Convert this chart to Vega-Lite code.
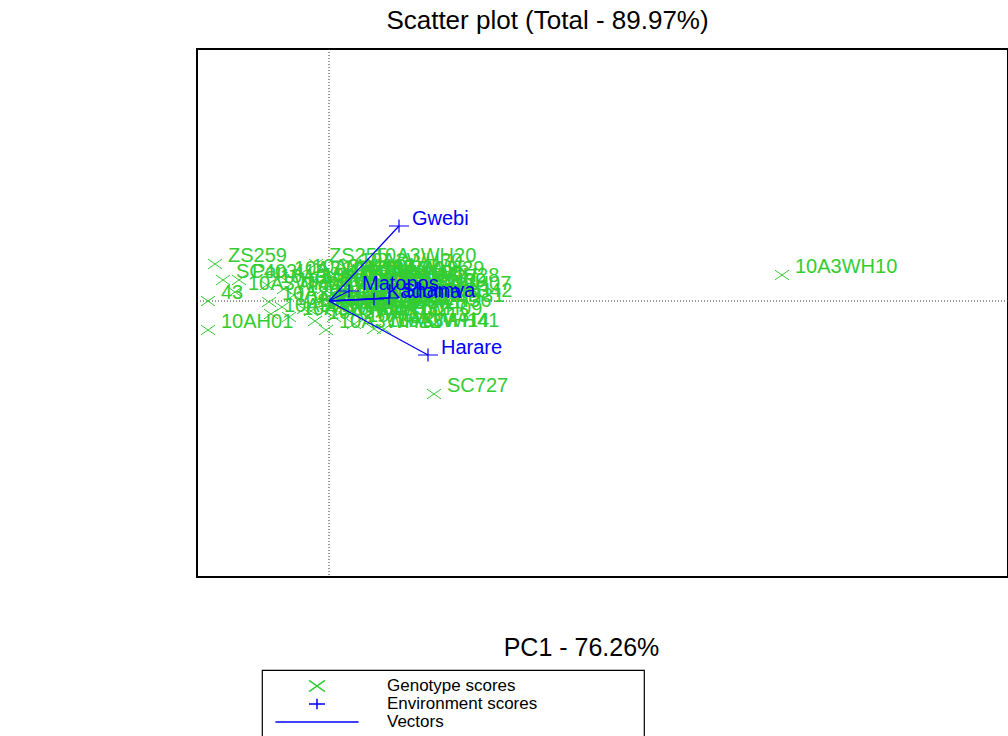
{
  "$schema": "https://vega.github.io/schema/vega-lite/v6.json",
  "width": 811,
  "height": 528,
  "autosize": {"type": "none"},
  "padding": {"left": 197, "top": 49, "right": 0, "bottom": 159},
  "background": "white",
  "title": {
    "text": "Scatter plot (Total - 89.97%)",
    "frame": "group",
    "anchor": "middle",
    "dx": -55,
    "dy": 27,
    "offset": 21,
    "baseline": "alphabetic",
    "fontSize": 26,
    "fontWeight": "normal",
    "font": "Liberation Sans",
    "color": "black"
  },
  "datasets": {
    "genotypes": [
      {"name": "ZS259", "PC1": -2.85, "PC2": 0.925, "type": "Genotype scores"},
      {"name": "SC403", "PC1": -2.65, "PC2": 0.525, "type": "Genotype scores"},
      {"name": "Pan 413", "PC1": -2.25, "PC2": 0.525, "type": "Genotype scores"},
      {"name": "10A3WH01", "PC1": -2.35, "PC2": 0.225, "type": "Genotype scores"},
      {"name": "43", "PC1": -3.025, "PC2": 0.0, "type": "Genotype scores"},
      {"name": "10AH01", "PC1": -3.025, "PC2": -0.725, "type": "Genotype scores"},
      {"name": "10A3WH02", "PC1": -1.5, "PC2": -0.025, "type": "Genotype scores"},
      {"name": "10A3WH03", "PC1": -1.45, "PC2": -0.325, "type": "Genotype scores"},
      {"name": "10A3WH04", "PC1": -1.175, "PC2": -0.15, "type": "Genotype scores"},
      {"name": "10A3WH05", "PC1": -1.55, "PC2": 0.4, "type": "Genotype scores"},
      {"name": "10A3WH06", "PC1": -1.0, "PC2": -0.4, "type": "Genotype scores"},
      {"name": "10A3WH08", "PC1": -0.75, "PC2": 0.65, "type": "Genotype scores"},
      {"name": "ZS255", "PC1": -0.325, "PC2": 0.925, "type": "Genotype scores"},
      {"name": "10A3WH20", "PC1": 0.8, "PC2": 0.925, "type": "Genotype scores"},
      {"name": "10A3WH11", "PC1": -0.35, "PC2": -0.5, "type": "Genotype scores"},
      {"name": "10A3WH12", "PC1": -0.075, "PC2": -0.725, "type": "Genotype scores"},
      {"name": "10A3WH13", "PC1": 0.625, "PC2": -0.575, "type": "Genotype scores"},
      {"name": "10A3WH14", "PC1": 1.125, "PC2": -0.7, "type": "Genotype scores"},
      {"name": "10A3WH29", "PC1": 1.0, "PC2": 0.6, "type": "Genotype scores"},
      {"name": "10A3WH27", "PC1": 0.825, "PC2": 0.4, "type": "Genotype scores"},
      {"name": "10A3WH07", "PC1": 1.675, "PC2": 0.225, "type": "Genotype scores"},
      {"name": "10A3WH33", "PC1": 1.125, "PC2": 0.025, "type": "Genotype scores"},
      {"name": "10A3WH36", "PC1": 1.175, "PC2": -0.2, "type": "Genotype scores"},
      {"name": "10A3WH09", "PC1": 0.95, "PC2": -0.4, "type": "Genotype scores"},
      {"name": "10A3WH41", "PC1": 1.375, "PC2": -0.7, "type": "Genotype scores"},
      {"name": "SC727", "PC1": 2.625, "PC2": -2.325, "type": "Genotype scores"},
      {"name": "10A3WH10", "PC1": 11.325, "PC2": 0.65, "type": "Genotype scores"},
      {"name": "10A3WH19", "PC1": 0.35, "PC2": 0.6, "type": "Genotype scores"},
      {"name": "10A3WH15", "PC1": -1.2, "PC2": 0.6, "type": "Genotype scores"},
      {"name": "10A3WH16", "PC1": -0.5, "PC2": 0.425, "type": "Genotype scores"},
      {"name": "10A3WH17", "PC1": -0.125, "PC2": 0.3, "type": "Genotype scores"},
      {"name": "10A3WH18", "PC1": 0.2, "PC2": 0.5, "type": "Genotype scores"},
      {"name": "10A3WH21", "PC1": 0.5, "PC2": 0.05, "type": "Genotype scores"},
      {"name": "10A3WH22", "PC1": 0.25, "PC2": -0.15, "type": "Genotype scores"},
      {"name": "10A3WH23", "PC1": -0.25, "PC2": 0.05, "type": "Genotype scores"},
      {"name": "10A3WH24", "PC1": -0.625, "PC2": -0.2, "type": "Genotype scores"},
      {"name": "10A3WH25", "PC1": 0.75, "PC2": 0.175, "type": "Genotype scores"},
      {"name": "10A3WH26", "PC1": 0.55, "PC2": -0.25, "type": "Genotype scores"},
      {"name": "10A3WH28", "PC1": 1.375, "PC2": 0.425, "type": "Genotype scores"},
      {"name": "10A3WH30", "PC1": 0.45, "PC2": 0.8, "type": "Genotype scores"},
      {"name": "10A3WH31", "PC1": 1.5, "PC2": -0.075, "type": "Genotype scores"},
      {"name": "10A3WH32", "PC1": 0.125, "PC2": -0.4, "type": "Genotype scores"},
      {"name": "10A3WH34", "PC1": -0.875, "PC2": 0.15, "type": "Genotype scores"},
      {"name": "10A3WH35", "PC1": 0.875, "PC2": -0.075, "type": "Genotype scores"},
      {"name": "10A3WH37", "PC1": 0.375, "PC2": 0.25, "type": "Genotype scores"},
      {"name": "10A3WH38", "PC1": -0.45, "PC2": -0.25, "type": "Genotype scores"},
      {"name": "10A3WH39", "PC1": 1.05, "PC2": 0.3, "type": "Genotype scores"},
      {"name": "10A3WH40", "PC1": 0.0, "PC2": 0.6, "type": "Genotype scores"},
      {"name": "10A3WH42", "PC1": 1.7, "PC2": 0.05, "type": "Genotype scores"},
      {"name": "10A3WH43", "PC1": 0.625, "PC2": 0.5, "type": "Genotype scores"},
      {"name": "10A3WH44", "PC1": -1.125, "PC2": 0.3, "type": "Genotype scores"},
      {"name": "10A3WH45", "PC1": -0.125, "PC2": -0.25, "type": "Genotype scores"}
    ],
    "environments": [
      {"name": "Gwebi", "PC1": 1.75, "PC2": 1.875, "type": "Environment scores"},
      {"name": "Harare", "PC1": 2.475, "PC2": -1.35, "type": "Environment scores"},
      {"name": "Matopos", "PC1": 0.5, "PC2": 0.25, "type": "Environment scores"},
      {"name": "Kadoma", "PC1": 1.125, "PC2": 0.05, "type": "Environment scores"},
      {"name": "Shamva", "PC1": 1.5, "PC2": 0.075, "type": "Environment scores"}
    ]
  },
  "layer": [
    {
      "data": {"values": [{}]},
      "mark": {"type": "rule", "strokeDash": [1, 2], "color": "#333333", "strokeWidth": 1},
      "encoding": {
        "x": {"datum": 0, "type": "quantitative", "scale": {"domain": [-3.3, 16.975], "nice": false, "zero": false}}
      }
    },
    {
      "data": {"values": [{}]},
      "mark": {"type": "rule", "strokeDash": [1, 2], "color": "#333333", "strokeWidth": 1},
      "encoding": {
        "y": {"datum": 0, "type": "quantitative", "scale": {"domain": [-6.9, 6.3], "nice": false, "zero": false}}
      }
    },
    {
      "data": {"name": "genotypes"},
      "mark": {"type": "point", "size": 196, "filled": false, "opacity": 1, "strokeWidth": 1},
      "encoding": {
        "x": {"field": "PC1", "type": "quantitative", "scale": {"domain": [-3.3, 16.975], "nice": false, "zero": false},
              "axis": {"orient": "bottom", "title": "PC1 - 76.26%", "titleX": 384, "titleY": 70, "titleAlign": "center", "titleBaseline": "middle", "titleFontSize": 25, "titleFontWeight": "normal", "titleFont": "Liberation Sans", "titleColor": "black"}},
        "y": {"field": "PC2", "type": "quantitative", "scale": {"domain": [-6.9, 6.3], "nice": false, "zero": false}, "axis": {"title": null}},
        "shape": {
          "field": "type", "type": "nominal",
          "scale": {"domain": ["Genotype scores", "Environment scores", "Vectors"], "range": ["M-1,-0.7L1,0.7M1,-0.7L-1,0.7", "M-1,0L1,0M0,-0.65L0,0.65", "M-5.2,0L5.2,0"]},
          "legend": {
            "title": "\u00a0",
            "titleOrient": "right",
            "titlePadding": 100,
            "orient": "none",
            "legendX": 65,
            "legendY": 621,
            "padding": 7,
            "strokeColor": "black",
            "symbolOffset": 39,
            "symbolSize": 256,
            "labelOffset": 61,
            "rowPadding": 0,
            "labelFontSize": 17,
            "labelFont": "Liberation Sans",
            "labelColor": "black",
            "labelLimit": 400,
            "encode": {
              "symbols": {
                "update": {
                  "stroke": {"signal": "datum.value === 'Genotype scores' ? '#33cc33' : '#0000ff'"},
                  "fill": {"value": "transparent"},
                  "strokeWidth": {"value": 1.2},
                  "size": {"value": 256},
                  "opacity": {"value": 1}
                }
              }
            }
          }
        },
        "color": {
          "field": "type", "type": "nominal",
          "scale": {"domain": ["Genotype scores", "Environment scores", "Vectors"], "range": ["#33cc33", "#0000ff", "#0000ff"]},
          "legend": {
            "title": "\u00a0",
            "titleOrient": "right",
            "titlePadding": 100,
            "orient": "none",
            "legendX": 65,
            "legendY": 621,
            "padding": 7,
            "strokeColor": "black",
            "symbolOffset": 39,
            "symbolSize": 256,
            "labelOffset": 61,
            "rowPadding": 0,
            "labelFontSize": 17,
            "labelFont": "Liberation Sans",
            "labelColor": "black",
            "labelLimit": 400
          }
        }
      }
    },
    {
      "data": {"name": "genotypes"},
      "mark": {"type": "text", "align": "left", "baseline": "middle", "dx": 13, "dy": -8, "fontSize": 20, "font": "Liberation Sans", "color": "#33cc33"},
      "encoding": {
        "x": {"field": "PC1", "type": "quantitative"},
        "y": {"field": "PC2", "type": "quantitative"},
        "text": {"field": "name", "type": "nominal"}
      }
    },
    {
      "data": {"name": "environments"},
      "mark": {"type": "rule", "strokeWidth": 1.3, "color": "#0000ff"},
      "encoding": {
        "x": {"field": "PC1", "type": "quantitative"},
        "y": {"field": "PC2", "type": "quantitative"},
        "x2": {"datum": 0},
        "y2": {"datum": 0}
      }
    },
    {
      "data": {"name": "environments"},
      "mark": {"type": "point", "size": 400, "filled": false, "opacity": 1, "strokeWidth": 1.2},
      "encoding": {
        "x": {"field": "PC1", "type": "quantitative"},
        "y": {"field": "PC2", "type": "quantitative"},
        "shape": {"field": "type", "type": "nominal"},
        "color": {"field": "type", "type": "nominal"}
      }
    },
    {
      "data": {"name": "environments"},
      "mark": {"type": "text", "align": "left", "baseline": "middle", "dx": 13, "dy": -7, "fontSize": 20, "font": "Liberation Sans", "color": "#0000ff"},
      "encoding": {
        "x": {"field": "PC1", "type": "quantitative"},
        "y": {"field": "PC2", "type": "quantitative"},
        "text": {"field": "name", "type": "nominal"}
      }
    }
  ],
  "config": {
    "view": {"stroke": "black", "strokeWidth": 2},
    "axis": {"domain": false, "ticks": false, "labels": false, "grid": false},
    "legend": {"strokeWidth": 1.2}
  }
}
